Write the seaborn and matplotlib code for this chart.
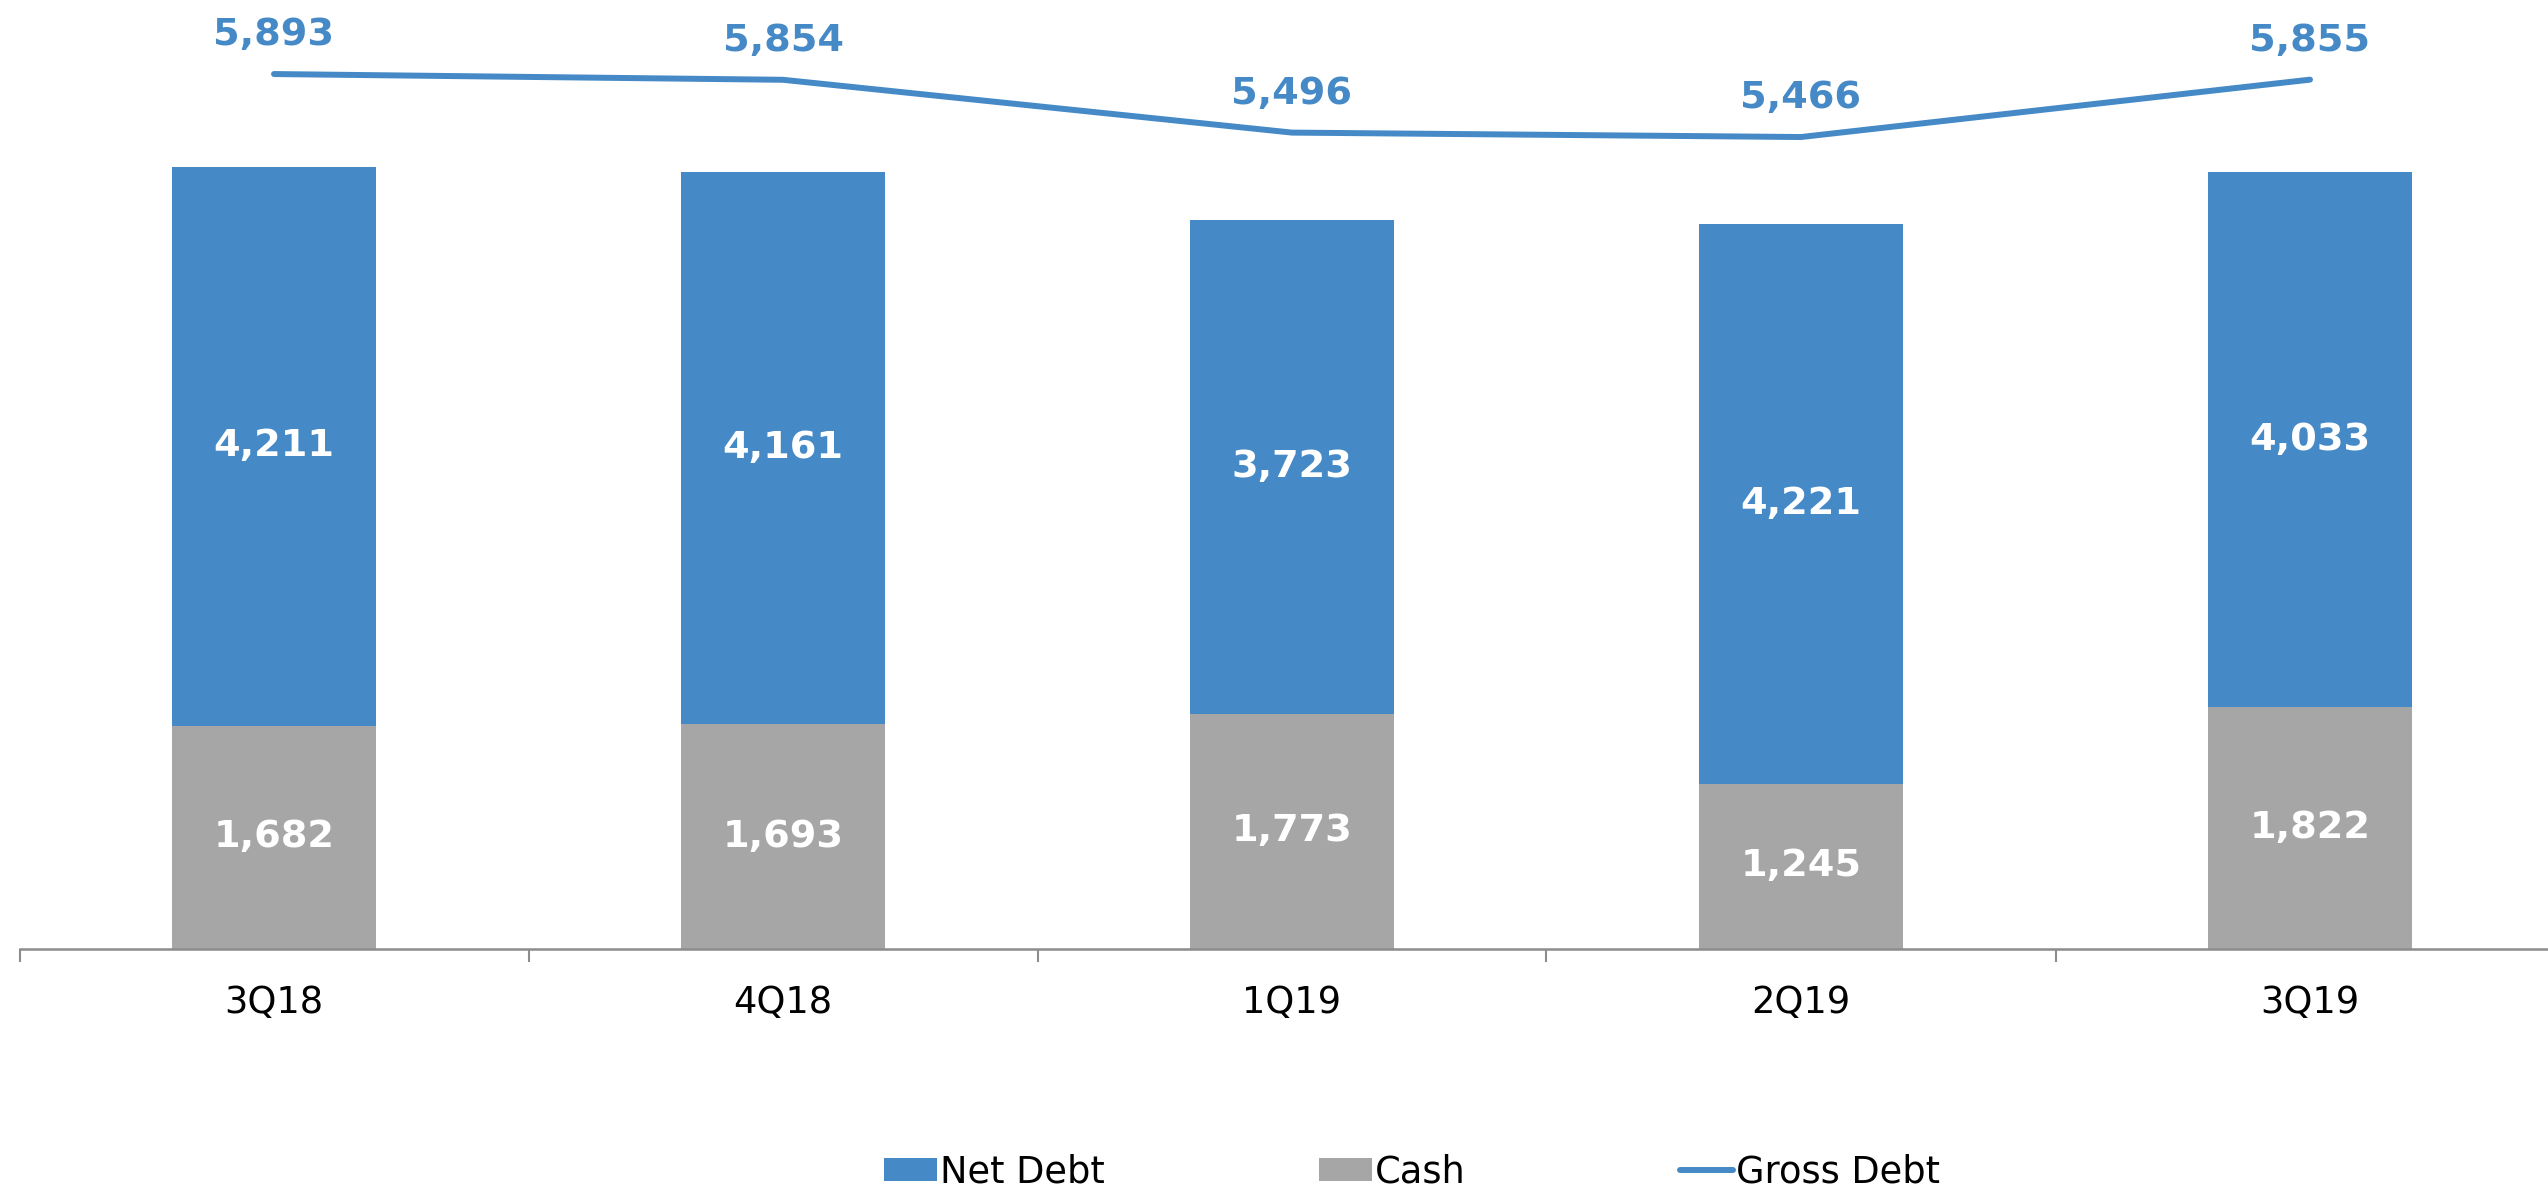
import matplotlib
matplotlib.use("Agg")
import matplotlib.pyplot as plt
import seaborn as sns
import pandas as pd
from matplotlib.patches import Patch
from matplotlib.lines import Line2D

# ---- data ----
quarters = ["3Q18", "4Q18", "1Q19", "2Q19", "3Q19"]
net_debt = [4211, 4161, 3723, 4221, 4033]
cash = [1682, 1693, 1773, 1245, 1822]
gross_debt = [5893, 5854, 5496, 5466, 5855]

BLUE = "#458AC6"
GRAY = "#A6A6A6"

sns.set_theme(style="white")
plt.rcParams['font.family'] = ['DejaVu Sans']
plt.rcParams['text.color'] = 'black'

W, H = 2548, 1191
fig = plt.figure(figsize=(W / 100, H / 100), dpi=100)
fig.patch.set_facecolor("white")

left_px, base_px = 19.5, 949
ax = fig.add_axes([left_px / W, (H - base_px) / H, (W - left_px) / W, base_px / H])
ax.set_facecolor("none")

df = pd.DataFrame({"quarter": quarters, "net": net_debt, "cash": cash, "gross": gross_debt})
df["total"] = df["net"] + df["cash"]

sns.barplot(data=df, x="quarter", y="total", color=BLUE, width=0.4, saturation=1,
            ax=ax, order=quarters, linewidth=0)
sns.barplot(data=df, x="quarter", y="cash", color=GRAY, width=0.4, saturation=1,
            ax=ax, order=quarters, linewidth=0)

xmax = -0.5 + (W - left_px) / 509.0
ax.set_xlim(-0.5, xmax)
ax.set_ylim(0, 949 * 7.536)

LBL = 27.5
# bar labels
for i, (n, c) in enumerate(zip(net_debt, cash)):
    ax.text(i, c + n / 2, f"{n:,}", ha="center", va="center", color="white",
            fontsize=LBL, fontweight="bold")
    ax.text(i, c / 2, f"{c:,}", ha="center", va="center", color="white",
            fontsize=LBL, fontweight="bold")

# axis styling
for s in ["top", "right", "left"]:
    ax.spines[s].set_visible(False)
ax.spines["bottom"].set_color("#8C8C8C")
ax.spines["bottom"].set_linewidth(1.8)
ax.set_yticks([])
ax.set_xlabel("")
ax.set_ylabel("")
ax.set_xticks([i - 0.5 for i in range(6)])
ax.set_xticklabels([""] * 6)
ax.tick_params(axis="x", which="major", length=9.5, width=1.5, color="#8C8C8C",
               direction="out", bottom=True)
ax.set_xticks(range(5), minor=True)
ax.set_xticklabels(quarters, minor=True, fontsize=26.5, color="black")
ax.tick_params(axis="x", which="minor", length=0, pad=25)

# secondary axis for gross debt line
ax2 = ax.twinx()
ax2.set_facecolor("none")
sns.lineplot(data=df, x="quarter", y="gross", ax=ax2, color=BLUE, linewidth=4.3,
             solid_capstyle="round", sort=False)
ax2.set_xlim(-0.5, xmax)
ax2.set_ylim(-39, 6395)
for s in ax2.spines.values():
    s.set_visible(False)
ax2.set_yticks([])
ax2.set_ylabel("")
ax2.set_xlabel("")
if ax2.get_legend():
    ax2.get_legend().remove()
for i, g in enumerate(gross_debt):
    ax2.annotate(f"{g:,}", (i, g), xytext=(0, 28), textcoords="offset points",
                 ha="center", va="center", color=BLUE, fontsize=LBL, fontweight="bold")

# legend
handles = [Patch(facecolor=BLUE, edgecolor="none"),
           Patch(facecolor=GRAY, edgecolor="none"),
           Line2D([0], [0], color=BLUE, lw=4.3, solid_capstyle="round")]
leg = fig.legend(handles, ["Net Debt", "Cash", "Gross Debt"], ncol=3, loc="center",
                 bbox_to_anchor=(1412 / W, 1 - 1172 / H), frameon=False, fontsize=26.5,
                 handlelength=1.46, handleheight=0.57, handletextpad=0.08,
                 columnspacing=5.8)
for t in leg.get_texts():
    t.set_color("black")

fig.savefig("out.png", dpi=100, facecolor="white")
